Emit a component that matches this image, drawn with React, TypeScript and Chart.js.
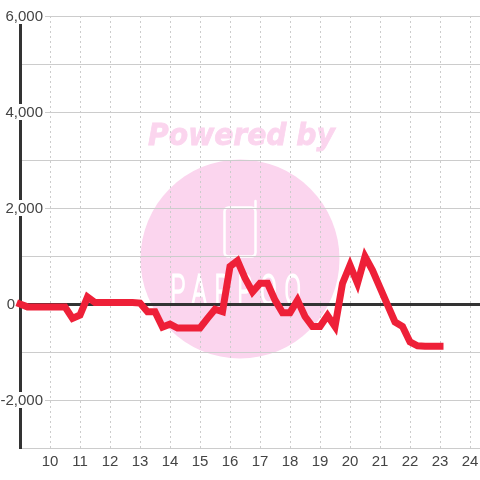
import React, { useEffect, useRef } from "react";
import { Chart, registerables } from "chart.js";

Chart.register(...registerables);

const hours = [
  9, 9.25, 9.5, 9.75, 10, 10.25, 10.5, 10.75, 11, 11.25, 11.5, 11.75, 12, 12.25, 12.5, 12.75, 13,
  13.25, 13.5, 13.75, 14, 14.25, 14.5, 14.75, 15, 15.25, 15.5, 15.75, 16, 16.25, 16.5, 16.75, 17,
  17.25, 17.5, 17.75, 18, 18.25, 18.5, 18.75, 19, 19.25, 19.5, 19.75, 20, 20.25, 20.5, 20.75, 21,
  21.25, 21.5, 21.75, 22, 22.25, 22.5, 22.75, 23,
];
const values = [
  0, -60, -60, -60, -60, -60, -60, -300, -230, 145, 30, 30, 30, 30, 30, 30, 20,
  -160, -160, -480, -420, -500, -500, -500, -500, -300, -110, -160, 780, 900, 540, 250, 430,
  430, 80, -180, -180, 80, -260, -470, -470, -240, -470, 430, 810, 430, 990, 700, 340,
  -20, -375, -470, -790, -870, -880, -880, -880,
];
const labelledTicks = [6000, 4000, 2000, 0, -2000];
const watermarkTop = "Powered by";
const watermarkBottom = "PAPPOO";

const INK = "#333333";
const GRID = "#cccccc";
const LINE = "#ee2038";
const PINK = "#fbd5ee";
const FONT = "'Liberation Sans', Arial, sans-serif";

const watermark = {
  id: "watermark",
  beforeDraw(chart: any) {
    const ctx = chart.ctx;
    ctx.save();
    ctx.fillStyle = "#ffffff";
    ctx.fillRect(0, 0, 480, 480);
    ctx.fillStyle = PINK;
    ctx.beginPath();
    ctx.arc(240, 259, 99.5, 0, Math.PI * 2);
    ctx.fill();

    ctx.save();
    ctx.translate(241.5, 144.5);
    ctx.scale(0.94, 1);
    ctx.font = `italic bold 30px 'DejaVu Sans', sans-serif`;
    ctx.textAlign = "center";
    ctx.textBaseline = "alphabetic";
    ctx.fillText(watermarkTop, 0, 0);
    ctx.strokeStyle = PINK;
    ctx.lineWidth = 0.8;
    ctx.strokeText(watermarkTop, 0, 0);
    ctx.restore();

    ctx.strokeStyle = "#ffffff";
    ctx.lineWidth = 2.5;
    ctx.lineCap = "round";
    ctx.beginPath();
    ctx.roundRect(224.5, 207.5, 31, 49, 4);
    ctx.stroke();
    ctx.beginPath();
    ctx.moveTo(255.5, 208);
    ctx.lineTo(255.5, 201);
    ctx.stroke();

    ctx.translate(240, 304);
    ctx.scale(0.6, 1);
    ctx.font = `100 40px Roboto, sans-serif`;
    ctx.textAlign = "center";
    (ctx as any).letterSpacing = "14px";
    ctx.lineWidth = 3;
    ctx.strokeText(watermarkBottom, 0, 0);
    ctx.restore();
  },
};

export default function App() {
  const ref = useRef<HTMLCanvasElement>(null);
  useEffect(() => {
    const chart = new Chart(ref.current!, {
      type: "line",
      data: {
        datasets: [
          {
            data: hours.map((h, i) => ({ x: h, y: values[i] })),
            borderColor: LINE,
            borderWidth: 7,
            borderCapStyle: "square",
            pointRadius: 0,
            tension: 0,
            clip: false,
          },
        ],
      },
      options: {
        animation: false,
        responsive: false,
        devicePixelRatio: 1,
        layout: { padding: { top: 16, right: 0, left: 0, bottom: 0 } },
        plugins: { legend: { display: false }, tooltip: { enabled: false } },
        scales: {
          x: {
            type: "linear",
            min: 9,
            max: 24.3333,
            afterFit: (s: any) => {
              s.height = 32;
              s.paddingLeft = 0;
              s.paddingRight = 0;
            },
            grid: { color: GRID, drawTicks: false, tickLength: 0, lineWidth: 1 },
            border: { display: false, dash: [2, 3] },
            ticks: {
              stepSize: 1,
              includeBounds: false,
              autoSkip: false,
              maxRotation: 0,
              padding: 5,
              color: "#444444",
              font: { family: FONT, size: 15 },
              callback: (v: any) => (v === 9 ? "" : String(v)),
            },
          },
          y: {
            type: "linear",
            min: -3000,
            max: 6000,
            afterFit: (s: any) => {
              s.width = 20;
              s.paddingTop = 0;
              s.paddingBottom = 0;
            },
            grid: {
              drawTicks: false,
              tickLength: 0,
              color: (c: any) => (c.tick && c.tick.value === 0 ? INK : GRID),
              lineWidth: (c: any) => (c.tick && c.tick.value === 0 ? 3 : 1),
            },
            border: { display: true, color: INK, width: 3 },
            ticks: {
              stepSize: 1000,
              autoSkip: false,
              mirror: true,
              crossAlign: "far",
              padding: -19.5,
              labelOffset: 1,
              color: "#444444",
              font: { family: FONT, size: 15 },
              showLabelBackdrop: true,
              backdropPadding: { top: 0, bottom: -2, left: 2, right: 2 },
              backdropColor: (c: any) =>
                c.tick && c.tick.value !== 0 && labelledTicks.includes(c.tick.value)
                  ? "#ffffff"
                  : "rgba(0,0,0,0)",
              callback: (v: any) => {
                if (!labelledTicks.includes(v)) return "";
                if (v === 0) return "0\u00a0\u00a0\u00a0\u00a0\u00a0\u00a0\u2009";
                return Number(v).toLocaleString("en-US");
              },
            },
          },
        },
      },
      plugins: [watermark],
    } as any);
    return () => chart.destroy();
  }, []);
  return (
    <div style={{ position: "fixed", left: 0, top: 0, width: 480, height: 480 }}>
      <canvas ref={ref} width={480} height={480} style={{ display: "block" }} />
    </div>
  );
}
